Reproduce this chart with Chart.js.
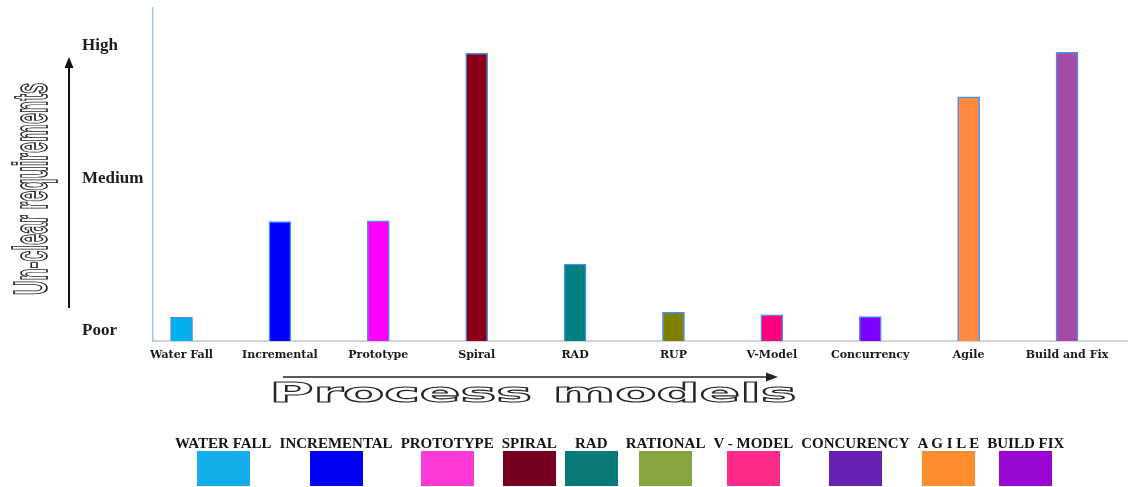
<!DOCTYPE html>
<html>
<head>
<meta charset="utf-8">
<title>Un-clear requirements by process model</title>
<script src="https://cdn.jsdelivr.net/npm/chart.js@4.4.1/dist/chart.umd.min.js"></script>
<style>
  html, body { margin: 0; padding: 0; background: #fff; }
  #wrap { position: relative; width: 1128px; height: 487px; }
  #legend { position: absolute; left: 175px; top: 435px; display: flex; gap: 8px; align-items: flex-start; }
  .item { display: flex; flex-direction: column; align-items: center; }
  .item span { font: bold 15px "Liberation Serif", "Times New Roman", serif; line-height: 16px; color: #141414; white-space: pre; }
  .item i { display: block; width: 53px; height: 35px; margin-top: 0; }
</style>
</head>
<body>
<div id="wrap">
  <canvas id="chart"></canvas>
  <div id="legend"></div>
</div>
<script>
// Process models on the horizontal axis
const categories = ['Water Fall', 'Incremental', 'Prototype', 'Spiral', 'RAD', 'RUP', 'V-Model', 'Concurrency', 'Agile', 'Build and Fix'];
// How well each model copes with un-clear requirements (Poor .. High scale)
const unclearRequirements = [0.85, 4.3, 4.33, 10.37, 2.77, 1.03, 0.94, 0.88, 8.8, 10.4];
const barColors = ['#00b0f0', '#0000ff', '#ff00ff', '#8b0016', '#008080', '#808000', '#ff0080', '#8000ff', '#ff8b40', '#a64ca6'];

// Qualitative levels on the vertical axis
const levelNames = ['Poor', 'Medium', 'High'];
const levelValues = [0.36, 5.84, 10.63];

// Colour key under the chart
const legendNames = ['WATER FALL', 'INCREMENTAL', 'PROTOTYPE', 'SPIRAL', 'RAD', 'RATIONAL', 'V - MODEL', 'CONCURENCY', 'A G I L E', 'BUILD FIX'];
const legendColors = ['#14aeea', '#0000f2', '#ff3ad6', '#76001f', '#087a7a', '#86a540', '#ff2b88', '#6622b0', '#ff8c2e', '#9a06d2'];

const yTitle = 'Un-clear requirements';
const xTitle = 'Process models';

// Build the colour key
const legendEl = document.getElementById('legend');
legendNames.forEach((name, i) => {
  const item = document.createElement('div');
  item.className = 'item';
  const label = document.createElement('span');
  label.textContent = name;
  const swatch = document.createElement('i');
  swatch.style.background = legendColors[i];
  item.appendChild(label);
  item.appendChild(swatch);
  legendEl.appendChild(item);
});

// Arrows and outlined axis titles
const decor = {
  id: 'decor',
  afterDraw(chart) {
    const ctx = chart.ctx;
    ctx.save();

    // upward arrow beside the level labels
    ctx.strokeStyle = '#111';
    ctx.fillStyle = '#111';
    ctx.lineWidth = 2;
    ctx.beginPath(); ctx.moveTo(69, 308); ctx.lineTo(69, 66); ctx.stroke();
    ctx.beginPath(); ctx.moveTo(69, 57); ctx.lineTo(64.5, 68); ctx.lineTo(73.5, 68); ctx.closePath(); ctx.fill();

    // rightward arrow above the horizontal title
    ctx.strokeStyle = '#222';
    ctx.fillStyle = '#222';
    ctx.lineWidth = 1.6;
    ctx.beginPath(); ctx.moveTo(283, 377); ctx.lineTo(768, 377); ctx.stroke();
    ctx.beginPath(); ctx.moveTo(778, 377); ctx.lineTo(766, 372.5); ctx.lineTo(766, 381.5); ctx.closePath(); ctx.fill();

    // vertical title, hollow condensed lettering
    ctx.save();
    ctx.translate(47, 189);
    ctx.rotate(-Math.PI / 2);
    ctx.font = 'bold 48px "Liberation Sans Narrow", "Liberation Sans", sans-serif';
    ctx.textAlign = 'center';
    ctx.textBaseline = 'alphabetic';
    ctx.fillStyle = '#fff';
    ctx.fillText(yTitle, 0, 0, 212);
    ctx.strokeStyle = '#262626';
    ctx.lineWidth = 1.7;
    ctx.strokeText(yTitle, 0, 0, 212);
    ctx.restore();

    // horizontal title, hollow extended lettering
    ctx.save();
    ctx.font = 'bold 26px "DejaVu Sans", sans-serif';
    const w = ctx.measureText(xTitle).width;
    ctx.translate(533, 402);
    ctx.scale(527 / w, 1);
    ctx.textAlign = 'center';
    ctx.textBaseline = 'alphabetic';
    ctx.fillStyle = '#fff';
    ctx.fillText(xTitle, 0, 0);
    ctx.strokeStyle = '#262626';
    ctx.lineWidth = 1.1;
    ctx.strokeText(xTitle, 0, 0);
    ctx.restore();

    ctx.restore();
  }
};

new Chart(document.getElementById('chart'), {
  type: 'bar',
  data: {
    datasets: [{
      data: categories.map((c, i) => ({ x: i, y: unclearRequirements[i] })),
      backgroundColor: barColors,
      borderColor: '#4a8fe6',
      borderWidth: 1.5,
      barThickness: 22
    }]
  },
  options: {
    responsive: true,
    maintainAspectRatio: false,
    animation: false,
    layout: { padding: { left: 82, top: 8, right: 0, bottom: 116 } },
    plugins: { legend: { display: false }, tooltip: { enabled: false } },
    scales: {
      x: {
        type: 'linear',
        offset: false,
        min: -0.29,
        max: 9.62,
        grid: { display: false, offset: false },
        border: { display: true, color: '#d3d3d3', width: 2 },
        afterBuildTicks: s => { s.ticks = categories.map((c, i) => ({ value: i })); },
        afterFit: s => { s.height = 30; },
        ticks: {
          autoSkip: false,
          maxRotation: 0,
          padding: 0,
          color: '#1a1a1a',
          font: { family: '"DejaVu Serif", serif', size: 11, weight: 'bold' },
          callback: v => categories[v]
        }
      },
      y: {
        min: 0,
        max: 12,
        grid: { display: false },
        border: { display: true, color: '#9ec7ee', width: 1.5 },
        afterBuildTicks: s => { s.ticks = levelValues.map(v => ({ value: v })); },
        afterFit: s => { s.width = 71; s.paddingTop = 0; s.paddingBottom = 0; },
        ticks: {
          crossAlign: 'far',
          padding: 10,
          color: '#1c1c1c',
          font: { family: '"Liberation Serif", serif', size: 17, weight: 'bold' },
          callback: (v, i) => levelNames[i]
        }
      }
    }
  },
  plugins: [decor]
});
</script>
</body>
</html>
